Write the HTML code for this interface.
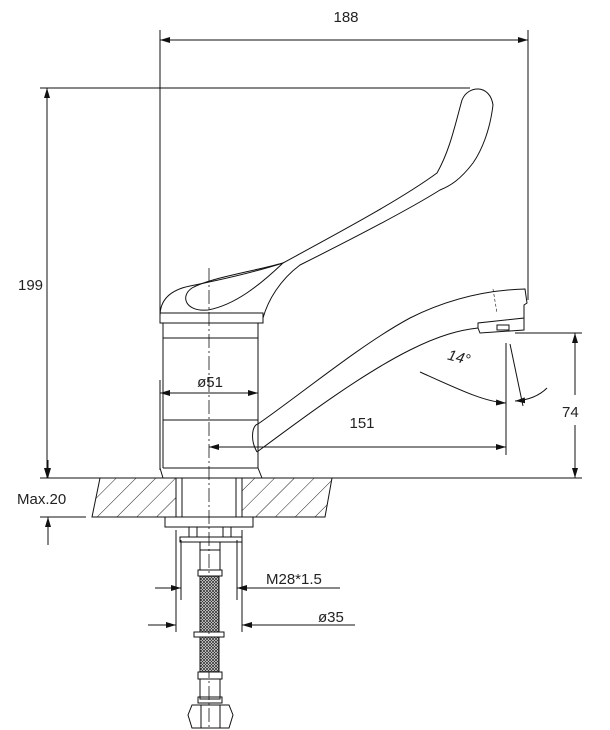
<!DOCTYPE html>
<html><head><style>
html,body{margin:0;padding:0;background:#fff;}
svg{display:block;}
text{font-family:"Liberation Sans",sans-serif;font-size:15px;fill:#222;}
</style></head><body>
<svg width="610" height="730" viewBox="0 0 610 730" xmlns="http://www.w3.org/2000/svg">
<defs>
<marker id="a" viewBox="0 0 10 6" refX="10" refY="3" markerWidth="10" markerHeight="6" orient="auto-start-reverse" markerUnits="userSpaceOnUse"><path d="M0,0L10,3L0,6z" fill="#111"/></marker>
<pattern id="h" width="14" height="14" patternUnits="userSpaceOnUse" patternTransform="rotate(45)"><line x1="0" y1="0" x2="0" y2="14" stroke="#222" stroke-width="1"/></pattern>
<pattern id="m" width="3" height="3" patternUnits="userSpaceOnUse"><rect width="3" height="3" fill="#fff"/><path d="M0,0L3,3M3,0L0,3" stroke="#333" stroke-width="0.8"/></pattern>
</defs>
<g stroke="#111" stroke-width="1" fill="none">
<line x1="160" y1="30" x2="160" y2="320"/>
<line x1="528" y1="30" x2="528" y2="300"/>
<line x1="160" y1="40" x2="528" y2="40" marker-start="url(#a)" marker-end="url(#a)"/>
<line x1="40" y1="88" x2="470" y2="88"/>
<line x1="47" y1="88" x2="47" y2="478" marker-start="url(#a)" marker-end="url(#a)"/>
<line x1="40" y1="478" x2="582" y2="478"/>
<!-- handle -->
<path d="M160,316 C160,300 170,290 190,286 C220,280 255,272 283,263 C340,232 400,200 437,173 C450,150 455,125 462,100 C468,85 490,84 493,105 C490,130 482,150 473,163 C460,180 450,186 440,190 C400,215 330,250 300,265 C280,280 268,300 263,318"/>
<path d="M283,263 C250,272 210,278 192,288 C180,296 185,312 208,310 C235,305 260,285 283,263"/>
<rect x="160" y="313" width="103" height="10"/>
<path d="M163,323 L163,468 M258,323 L258,468"/>
<line x1="163" y1="338" x2="258" y2="338"/>
<line x1="163" y1="420" x2="258" y2="420"/>
<line x1="163" y1="468" x2="258" y2="468"/>
<path d="M160,468 L163,478 M258,468 L262,478"/>
<!-- spout -->
<path d="M258,424 C300,395 360,345 410,318 C450,298 490,290 525,289 L527,303 L524,305 L524,318 L478,323 L478,328"/>
<path d="M257,452 C250,440 252,425 258,424"/>
<path d="M257,452 C300,420 360,375 410,350 C440,335 460,330 478,328 L480,333 L524,330 L524,318"/>
<path d="M493,289 L497,313" stroke-width="0.6" stroke-dasharray="3,2"/>
<rect x="497" y="325" width="12" height="5"/>
<line x1="506" y1="343" x2="506" y2="455"/>
<line x1="510" y1="344" x2="523" y2="406"/>
<path d="M420,372 C460,390 485,402 506,403" marker-end="url(#a)"/>
<path d="M547,388 C540,395 530,400 515,401" marker-end="url(#a)"/>
<line x1="515" y1="333" x2="582" y2="333"/>
<line x1="575" y1="333" x2="575" y2="395" marker-start="url(#a)"/>
<line x1="575" y1="425" x2="575" y2="478" marker-end="url(#a)"/>
<line x1="209" y1="447" x2="506" y2="447" marker-start="url(#a)" marker-end="url(#a)"/>
<line x1="160" y1="393" x2="258" y2="393" marker-start="url(#a)" marker-end="url(#a)"/>
<line x1="160" y1="380" x2="160" y2="470"/>
<line x1="209" y1="268" x2="209" y2="730" stroke-dasharray="14,3,2,3" stroke-width="0.8"/>
<path d="M100,478 L92,517 L176,517 L176,478 Z" fill="url(#h)"/>
<path d="M242,478 L242,517 L325,517 L332,478 Z" fill="url(#h)"/>
<rect x="182" y="478" width="54" height="39"/>
<rect x="165" y="517" width="88" height="10"/>
<rect x="189" y="527" width="8" height="10"/>
<rect x="223" y="527" width="8" height="10"/>
<rect x="180" y="537" width="62" height="5"/>
<rect x="200" y="542" width="20" height="8"/>
<rect x="200" y="550" width="20" height="20"/>
<rect x="198" y="570" width="24" height="6"/>
<rect x="200" y="576" width="19" height="56" fill="url(#m)"/>
<rect x="194" y="632" width="30" height="5"/>
<rect x="200" y="637" width="19" height="35" fill="url(#m)"/>
<rect x="198" y="672" width="24" height="7"/>
<rect x="200" y="679" width="20" height="20"/>
<rect x="198" y="697" width="24" height="6"/>
<path d="M192,705 L229,705 L233,715 L229,728 L192,728 L188,715 Z"/>
<line x1="201" y1="705" x2="201" y2="728"/><line x1="220" y1="705" x2="220" y2="728"/>
<line x1="40" y1="517" x2="86" y2="517"/>
<line x1="48" y1="460" x2="48" y2="478" marker-end="url(#a)"/>
<line x1="48" y1="545" x2="48" y2="517" marker-end="url(#a)"/>
<line x1="181" y1="540" x2="181" y2="600"/><line x1="237" y1="540" x2="237" y2="600"/>
<line x1="155" y1="588" x2="181" y2="588" marker-end="url(#a)"/>
<line x1="340" y1="588" x2="237" y2="588" marker-end="url(#a)"/>
<line x1="176" y1="530" x2="176" y2="632"/><line x1="242" y1="530" x2="242" y2="632"/>
<line x1="148" y1="625" x2="176" y2="625" marker-end="url(#a)"/>
<line x1="355" y1="625" x2="242" y2="625" marker-end="url(#a)"/>
</g>
<text x="346" y="22" text-anchor="middle">188</text>
<text x="18" y="290">199</text>
<text x="210" y="387" text-anchor="middle">ø51</text>
<text x="362" y="428" text-anchor="middle">151</text>
<text x="562" y="417">74</text>
<text x="448" y="362" transform="rotate(15 458 356)" font-style="italic">14°</text>
<text x="17" y="504">Max.20</text>
<text x="266" y="584">M28*1.5</text>
<text x="318" y="622">ø35</text>
</svg>
</body></html>
